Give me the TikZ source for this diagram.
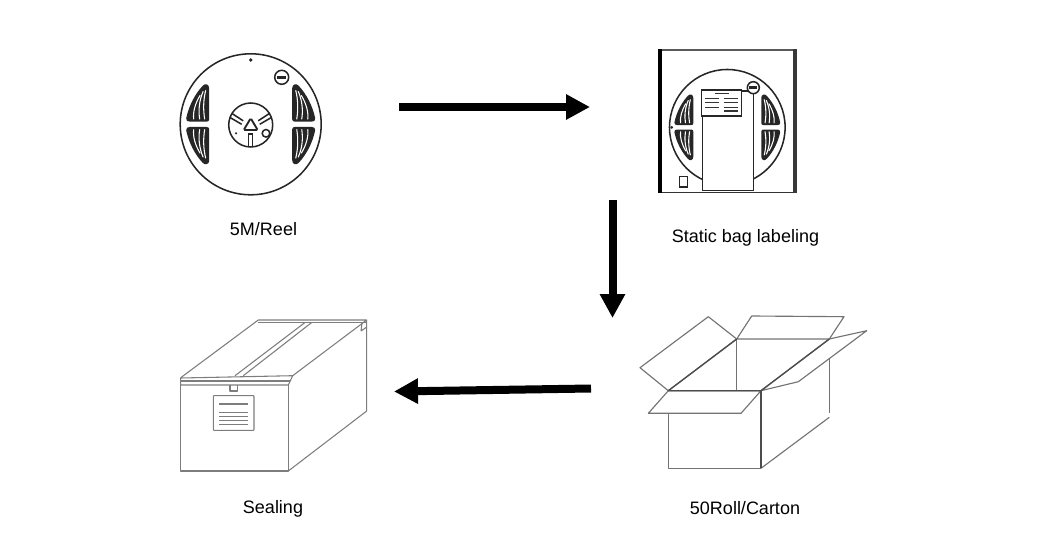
\documentclass[tikz,border=0pt]{standalone}
\usepackage{fontspec}
\setmainfont{Liberation Sans}
\usetikzlibrary{arrows.meta}
\definecolor{boxgray}{RGB}{125,125,125}
\tikzset{
  flowarrow/.style={line width=6pt,-{Triangle[length=18pt,width=18pt]}},
  caption/.style={inner sep=0.75pt,font=\fontsize{13.5pt}{16pt}\selectfont},
  reelline/.style={line width=1.15pt,black!85},
  boxline/.style={line width=0.8pt,boxgray,line join=round},
  cartonline/.style={line width=0.85pt,black!55,line join=round},
  cartonrim/.style={line width=1pt,black!70,line join=round},
  labelline/.style={line width=0.9pt,black!80}
}
\begin{document}
\begin{tikzpicture}[x=0.75pt,y=0.75pt,yscale=-1,xscale=1]
\useasboundingbox (0,0) rectangle (1055,556);
% both reels, the second one sits under the bag
\foreach \cx/\cy/\rs in {250.7/124.3/1,727.3/127.3/0.82}{
  \begin{scope}[shift={(\cx,\cy)},scale=\rs]
    \draw[reelline] (0,0) circle (70.5);
    \foreach \sx/\sy in {1/1,-1/1,1/-1,-1/-1}{
      \begin{scope}[xscale=\sx,yscale=\sy]
        \fill[black!85] (41.5,-36) .. controls (41.5,-40) and (45.5,-41.5) .. (48,-38.5) .. controls (56,-30) and (62,-18) .. (64.5,-6) .. controls (65,-3.5) and (63,-2.7) .. (61,-2.7) -- (44,-2.7) .. controls (42.5,-2.7) and (41.5,-3.5) .. (41.5,-5) -- cycle;
        \draw[white,line width=0.8pt] (45,-34) .. controls (47.5,-24) and (47.5,-14) .. (46,-5);
        \draw[white,line width=0.8pt] (47.5,-33) .. controls (51.5,-24) and (52.5,-14) .. (51,-5);
        \draw[white,line width=0.8pt] (50.5,-29) .. controls (55.5,-21) and (58,-12) .. (57,-5);
      \end{scope}
    }
  \end{scope}
}
% first reel, details
\begin{scope}[shift={(250.7,124.3)}]
  \fill[black!85] (0,-64.3) circle (1.8);
  \draw[reelline] (31,-47) circle (7);
  \draw[black!85,line width=2.4pt] (26.5,-47) -- (35.5,-47);
  \draw[reelline] (0,0.7) circle (22);
  \draw[reelline,rounded corners=1pt,line width=1.4pt] (0,-6) -- (-7,5.7) -- (7,5.7) -- cycle;
  \draw[reelline] (-19,-11) -- (-7.5,-3.5) (-21,-7) -- (-9,0);
  \draw[reelline] (19,-11) -- (7.5,-3.5) (21,-7) -- (9,0);
  \draw[reelline] (-2.3,22) -- (-2.3,9.7) -- (2,9.7) -- (2,22);
  \draw[reelline] (15.3,9) circle (3.8);
  \fill[black!85] (-14.7,9) circle (1.2);
\end{scope}
% static bag
\draw[line width=1pt,black!65] (658.3,50) -- (796.7,50);
\draw[line width=1pt,black!80] (658.3,192.2) -- (796.7,192.2);
\fill[black] (658,49.5) rectangle (662,193);
\fill[black!78] (793,49.5) rectangle (797,193);
\fill[black!85] (671.7,127.3) circle (1.5);
\fill[white] (702.3,93.3) rectangle (753.3,190.7);
\draw[reelline] (702.3,116) -- (702.3,190.7) -- (753.3,190.7) -- (753.3,93.3);
\draw[reelline,fill=white] (701.3,90) rectangle (741.7,116);
\draw[reelline] (741.7,91) -- (748,91);
\draw[reelline,fill=white] (753.3,87.7) circle (6);
\draw[black!85,line width=2.2pt] (749.3,87.7) -- (757.3,87.7);
\draw[reelline] (679.3,176.7) rectangle (687.3,187);
\draw[labelline] (714.7,93.7) -- (728.7,93.7);
\foreach \ly in {98.3,102.3,107.3}{
  \draw[labelline] (705,\ly) -- (719,\ly);
  \draw[labelline] (724,\ly) -- (738,\ly);
}
\draw[labelline] (724,111) -- (738,111);
% sealed box
\draw[boxline] (180.7,377.7) -- (258.3,320) -- (366.7,320) -- (292.7,375.7);
\draw[boxline] (258.3,322.5) -- (366.7,322.5);
\draw[boxline] (235,375.7) -- (305,322.5) (243.3,375.7) -- (311.7,322.5);
\draw[boxline] (180.7,378) -- (292.7,375.7) -- (288.3,385) -- (180.7,385) -- cycle;
\draw[boxline] (180.7,381) -- (290,381);
\draw[boxline] (180.7,385) -- (180.7,471) -- (288.3,471) -- (288.3,385);
\draw[boxline] (288.3,471) -- (366.7,411) -- (366.7,320);
\draw[boxline] (361,331) -- (362,323) (361,331) -- (366.7,327);
\draw[boxline] (230,385) -- (230,391) -- (237.7,391) -- (237.7,385);
\draw[boxline,rounded corners=0.5pt] (213.3,395.7) rectangle (254,430.3);
\foreach \ly in {404,412.7,416.7,420.7,424.3}{
  \draw[boxline] (219,\ly) -- (248.3,\ly);
}
% open carton
\draw[cartonline] (668.3,390.7) -- (640,367.7) -- (708.3,316.7) -- (736.7,339) -- cycle;
\draw[cartonline] (736.7,339) -- (751.7,316) -- (844,316.7) -- (829.3,339) -- cycle;
\draw[cartonline] (761,390.7) -- (798.3,381.7) -- (866.7,330.7) -- (829.3,339) -- cycle;
\draw[cartonline] (668.3,390.7) -- (648.3,413.3) -- (741,413.3) -- (761,390.7) -- cycle;
\draw[cartonline] (736.7,339) -- (736.7,390.7);
\draw[cartonline] (668.3,413.3) -- (668.3,468.3) -- (761,468.3);
\draw[cartonline] (761,468.3) -- (829.3,417.3);
\draw[cartonline] (829.3,358.3) -- (829.3,413.3);
\draw[cartonrim] (736.7,339) -- (668.3,390.7) -- (761,390.7) -- (829.3,339);
\draw[cartonrim] (761,390.7) -- (761,468.3);
% arrows
\coordinate (reelout) at (399,107);
\coordinate (bagin) at (590,107);
\coordinate (bagout) at (612.5,200);
\coordinate (cartonin) at (612.5,318);
\coordinate (cartonout) at (591,388.5);
\coordinate (sealin) at (394,391.5);
\draw[flowarrow] (reelout) -- (bagin);
\draw[flowarrow] (bagout) -- (cartonin);
\draw[flowarrow] (cartonout) -- (sealin);
% captions
\node[caption] (reeltext) at (263.5,229) {5M/Reel};
\node[caption] (bagtext) at (745.5,237.5) {Static bag labeling};
\node[caption] (sealtext) at (273,509) {Sealing};
\node[caption] (cartontext) at (745,508) {50Roll/Carton};
\end{tikzpicture}
\end{document}
